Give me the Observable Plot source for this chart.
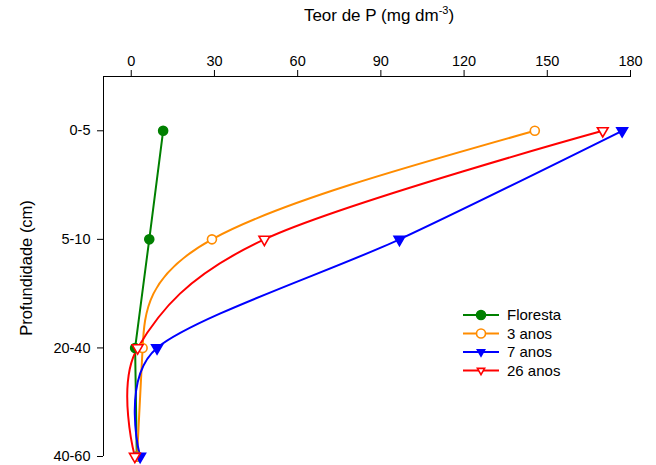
<!DOCTYPE html>
<html><head><meta charset="utf-8">
<script src="https://cdn.jsdelivr.net/npm/d3@7"></script>
<script src="https://cdn.jsdelivr.net/npm/@observablehq/plot@0.6"></script>
<style>
body{margin:0;background:#fff;font-family:"Liberation Sans",Arial,sans-serif;}
#wrap{position:relative;width:656px;height:465px;}
#title{position:absolute;top:6px;left:279px;width:200px;text-align:center;font-size:17px;color:#000;white-space:nowrap;}
#ylab{position:absolute;left:26px;top:268px;transform:translate(-50%,-50%) rotate(-90deg);font-size:16.5px;white-space:nowrap;}
</style></head><body>
<div id="wrap"><div id="chart"></div>
<div id="title">Teor de P (mg dm<sup style="font-size:11px;vertical-align:7px;line-height:0">-3</sup>)</div>
<div id="ylab">Profundidade (cm)</div>
</div>
<script>
const depths = ["0-5", "5-10", "20-40", "40-60"];
const xTicks = [0, 30, 60, 90, 120, 150, 180];
const seriesNames = ["Floresta", "3 anos", "7 anos", "26 anos"];
const floresta = [11.5, 6.5, 1.4, 2.0];
const anos3 = [145.5, 29.1, 4.1, 2.1];
const anos7 = [177.0, 96.7, 9.3, 3.2];
const anos26 = [170.0, 48.0, 2.3, 1.3];

const styles = [
  {color: "#008000", symbol: "circle", fill: "#008000", rotate: 0, curve: "linear", tension: 0},
  {color: "#FF8C00", symbol: "circle", fill: "white", rotate: 0, curve: "natural", tension: 0},
  {color: "#0000FF", symbol: "triangle", fill: "#0000FF", rotate: 180, curve: "cardinal", tension: 0.15},
  {color: "#FF0000", symbol: "triangle", fill: "white", rotate: 180, curve: "catmull-rom", tension: 0}
];
const values = [floresta, anos3, anos7, anos26];
const rows = values.map((vals, s) => vals.map((v, i) => ({series: seriesNames[s], depth: i, value: v})));

const marks = [
  Plot.ruleY([-0.5], {stroke: "black", strokeWidth: 1}),
  Plot.ruleX([-10], {stroke: "black", strokeWidth: 1}),
  Plot.axisX({anchor: "top", ticks: xTicks, tickSize: 7, tickPadding: 4, fontSize: 14.5, label: null}),
  Plot.axisY({anchor: "left", ticks: [0, 1, 2, 3], tickFormat: i => depths[i], tickSize: 6, tickPadding: 7, fontSize: 14.5, label: null})
];
rows.forEach((d, s) => {
  const st = styles[s];
  marks.push(Plot.line(d, {x: "value", y: "depth", stroke: st.color, strokeWidth: 2, curve: st.curve, tension: st.tension}));
});
rows.forEach((d, s) => {
  const st = styles[s];
  marks.push(Plot.dot(d, {x: "value", y: "depth", symbol: st.symbol, r: st.symbol === "circle" ? 4.5 : 4, fill: st.fill, stroke: st.color, strokeWidth: 1.6, rotate: st.rotate}));
});

const chart = Plot.plot({
  width: 656, height: 465,
  marginLeft: 103, marginRight: 26, marginTop: 76, marginBottom: 9,
  style: {fontFamily: "Liberation Sans, Arial, sans-serif", fontSize: "14px", color: "black", background: "white"},
  x: {domain: [-10, 180]},
  y: {domain: [-0.5, 3], reverse: true},
  marks
});
document.getElementById("chart").appendChild(chart);

// legend
const lg = d3.select("#wrap").append("svg").attr("width", 656).attr("height", 465)
  .style("position", "absolute").style("left", 0).style("top", 0).style("pointer-events", "none");
const ly = [315, 333.5, 352, 370.5];
seriesNames.forEach((name, s) => {
  const st = styles[s];
  const g = lg.append("g");
  g.append("line").attr("x1", 463).attr("x2", 499).attr("y1", ly[s]).attr("y2", ly[s]).attr("stroke", st.color).attr("stroke-width", 2);
  const sym = st.symbol === "circle" ? d3.symbolCircle : d3.symbolTriangle;
  const size = st.symbol === "circle" ? Math.PI * 4.5 * 4.5 : 4 * 4 * 1.4;
  g.append("path").attr("d", d3.symbol(sym, size)()).attr("transform", `translate(481,${ly[s]}) rotate(${st.rotate})`)
    .attr("fill", st.fill).attr("stroke", st.color).attr("stroke-width", 1.6);
  g.append("text").attr("x", 507).attr("y", ly[s]).attr("dy", "0.35em").attr("font-size", 15)
    .attr("font-family", "Liberation Sans, Arial, sans-serif").text(name);
});
</script>
</body></html>
